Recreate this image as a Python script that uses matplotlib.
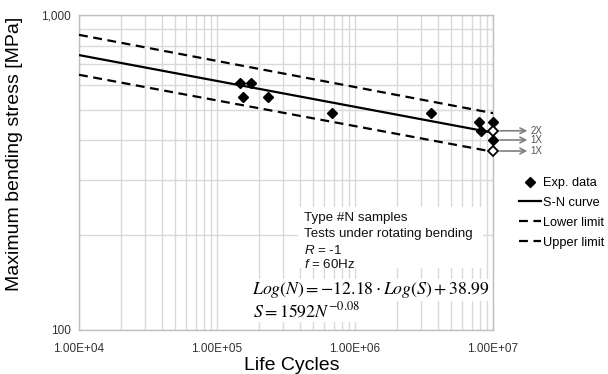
import matplotlib
matplotlib.use("Agg")
import matplotlib.pyplot as plt
from matplotlib.lines import Line2D
import numpy as np

plt.rcParams['font.family'] = ['Liberation Sans', 'DejaVu Sans']
plt.rcParams['mathtext.fontset'] = 'custom'
plt.rcParams['mathtext.rm'] = 'Liberation Sans'
plt.rcParams['mathtext.it'] = 'Liberation Sans:italic'

# Experimental data (filled diamonds)
exp_cycles = [1.47e5, 1.75e5, 1.55e5, 2.35e5, 6.8e5, 3.54e6, 7.9e6, 1.0e7, 8.2e6, 1.0e7]
exp_stress = [610, 610, 550, 550, 490, 490, 458, 458, 429, 401]
# Run-outs (open diamonds)
runout_cycles = [1.0e7, 1.0e7]
runout_stress = [429, 370]
# Arrow annotations for run-outs
arrow_stress = [429, 401, 370]
arrow_labels = ["2X", "1X", "1X"]

# Curve end points
line_cycles = [1e4, 1e7]
sn_curve = [746, 423]
upper_limit = [865, 488]
lower_limit = [646, 368]

fig = plt.figure(figsize=(6.08, 3.74), dpi=100)
ax = fig.add_axes([79/608, 1-330/374, (493-79)/608, (330-15)/374])
ax.set_xscale('log')
ax.set_yscale('log')
ax.set_xlim(1e4, 1e7)
ax.set_ylim(100, 1000)

grid_c = '#d9d9d9'
ax.grid(True, which='both', color=grid_c, linewidth=1.0)
ax.set_axisbelow(True)
for s in ax.spines.values():
    s.set_color('#bfbfbf')
    s.set_linewidth(1.0)

ax.set_xticks([1e4, 1e5, 1e6, 1e7])
ax.set_xticklabels(["1.00E+04", "1.00E+05", "1.00E+06", "1.00E+07"])
ax.set_yticks([100, 1000])
ax.set_yticklabels(["100", "1,000"])
ax.yaxis.set_minor_locator(matplotlib.ticker.LogLocator(base=10, subs=np.arange(2, 10)))
ax.xaxis.set_minor_locator(matplotlib.ticker.LogLocator(base=10, subs=np.arange(2, 10)))
ax.yaxis.set_minor_formatter(matplotlib.ticker.NullFormatter())
ax.xaxis.set_minor_formatter(matplotlib.ticker.NullFormatter())
ax.tick_params(which='both', length=0, labelsize=8.5, colors='#333333', pad=6)
ax.tick_params(axis='x', pad=9)

dash = (0, (4, 2.5))
ax.plot(line_cycles, upper_limit, color='black', lw=1.6, linestyle=dash, zorder=3)
ax.plot(line_cycles, lower_limit, color='black', lw=1.6, linestyle=dash, zorder=3)
ax.plot(line_cycles, sn_curve, color='black', lw=1.6, zorder=3)
ax.plot(exp_cycles, exp_stress, linestyle='none', marker='D', ms=5.5,
        color='black', zorder=5, clip_on=False)
ax.plot(runout_cycles, runout_stress, linestyle='none', marker='D', ms=5.5,
        markerfacecolor='white', markeredgecolor='black', markeredgewidth=1.3,
        zorder=5, clip_on=False)

for yv, lab in zip(arrow_stress, arrow_labels):
    ax.annotate("", xy=(1.083, yv), xytext=(1.017, yv),
                xycoords=('axes fraction', 'data'), textcoords=('axes fraction', 'data'),
                arrowprops=dict(arrowstyle='->', color='#7f7f7f', lw=1.2,
                                shrinkA=0, shrinkB=0))
    ax.text(1.09, yv, lab, transform=ax.get_yaxis_transform(), fontsize=7,
            color='#555555', va='center', ha='left')

ax.set_xlabel("Life Cycles", fontsize=14)
ax.xaxis.set_label_coords(0.514, -0.085)
ax.set_ylabel("Maximum bending stress [MPa]", fontsize=14)
ax.yaxis.set_label_coords(-0.135, 0.559)

# annotation block
fig.patches.append(plt.Rectangle((298/608, 1-268/374), (483-298)/608, (268-207)/374,
                                 transform=fig.transFigure, facecolor='white',
                                 edgecolor='none', zorder=1))
lines = ["Type #N samples", "Tests under rotating bending", r"$R$ = -1", r"$f$ = 60Hz"]
ys = [218, 234, 250, 265]
for t, yy in zip(lines, ys):
    fig.text(304/608, 1-yy/374, t, fontsize=9.6, va='center', ha='left', color='#111111',
             zorder=6)

fig.text(252/608, 1-290/374, r"$Log\left(N\right) = -12.18\cdot Log\left(S\right) + 38.99$",
         fontsize=12.8, va='center', ha='left', math_fontfamily='stix',
         bbox=dict(facecolor='white', edgecolor='none', pad=1), zorder=6)
fig.text(253/608, 1-311/374, r"$S = 1592N^{-0.08}$",
         fontsize=12.8, va='center', ha='left', math_fontfamily='stix',
         bbox=dict(facecolor='white', edgecolor='none', pad=1), zorder=6)

handles = [
    Line2D([], [], linestyle='none', marker='D', ms=5, color='black'),
    Line2D([], [], color='black', lw=1.6),
    Line2D([], [], color='black', lw=1.6, linestyle=dash),
    Line2D([], [], color='black', lw=1.6, linestyle=dash),
]
labels = ["Exp. data", "S-N curve", "Lower limit", "Upper limit"]
fig.legend(handles, labels, loc='upper left', bbox_to_anchor=(519/608, 1-177/374),
           frameon=False, fontsize=9.2, handlelength=1.75, handletextpad=0.15,
           labelspacing=0.62, borderpad=0, borderaxespad=0)

fig.savefig("out.png", dpi=100)
